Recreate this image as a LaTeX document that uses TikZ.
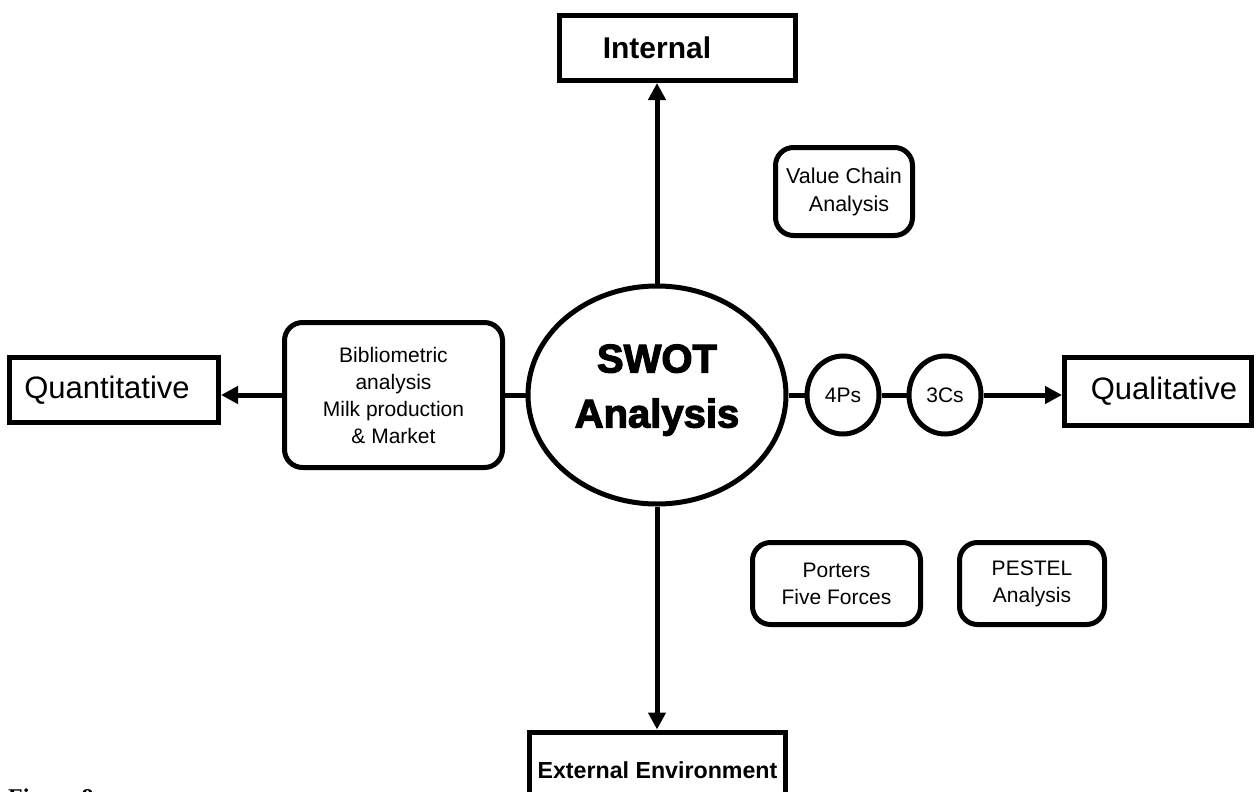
\documentclass[tikz,border=0pt]{standalone}
\usepackage{fontspec}
\setmainfont{Liberation Sans}
\newfontfamily\heavyfont[FakeBold=3]{Liberation Sans Bold}
\newfontfamily\capfont{Liberation Serif}
\usetikzlibrary{arrows.meta,shapes.geometric}
\begin{document}
\begin{tikzpicture}[x=1pt,y=-1pt,
  lw/.style={line width=5pt},
  sqbox/.style={draw,lw,rectangle,inner sep=0pt,align=center},
  rbox/.style={draw,lw,rectangle,rounded corners=18pt,inner sep=0pt,align=center,font=\fontsize{21}{27}\selectfont},
  smallcirc/.style={draw,lw,ellipse,inner sep=0pt,minimum width=72pt,minimum height=78pt,font=\fontsize{21}{24}\selectfont},
  conn/.style={lw},
  arr/.style={lw,-{Triangle[length=17pt,width=17pt]}}
  ]
\useasboundingbox (0,0) rectangle (1256,792);
\fill[white] (0,0) rectangle (1256,792);

\node[draw,lw,ellipse,inner sep=0pt,minimum width=258pt,minimum height=218pt,align=center,
  font=\heavyfont\fontsize{40}{55}\selectfont] (swot) at (657,395) {SWOT\\Analysis\rule[-18pt]{0pt}{1pt}};

\node[sqbox,minimum width=236pt,minimum height=65pt,font=\bfseries\fontsize{30}{36}\selectfont] (internal) at (677,48) {Internal\hspace*{40pt}};
\node[sqbox,minimum width=256pt,minimum height=80pt,anchor=north,font=\bfseries\fontsize{23.2}{30}\selectfont] (external) at (657.5,729.5) {\raisebox{3pt}{External Environment}};

\node[sqbox,minimum width=209pt,minimum height=65pt,font=\fontsize{31}{36}\selectfont] (quant) at (114,390) {Quantitative\hspace*{14pt}};
\node[sqbox,minimum width=187pt,minimum height=68pt,font=\fontsize{31}{36}\selectfont] (qual) at (1158,391.5) {\hspace*{12pt}Qualitative};

\node[rbox,minimum width=218pt,minimum height=145pt] (bib) at (393.5,395) {Bibliometric\\analysis\\Milk production\\\& Market};
\node[rbox,minimum width=137pt,minimum height=88pt,font=\fontsize{21.5}{28}\selectfont] (vca) at (844,191.5) {Value Chain\\\hspace*{10pt}Analysis};
\node[rbox,minimum width=168pt,minimum height=82pt] (porter) at (836.5,583.5) {Porters\\Five Forces};
\node[rbox,minimum width=145pt,minimum height=82pt] (pestel) at (1032,583.5) {PESTEL\\Analysis};

\node[smallcirc] (p4) at (843,395) {4Ps};
\node[smallcirc] (c3) at (945,395) {3Cs};

\draw[arr] (swot.north) -- (swot.north |- internal.south);
\draw[arr] (swot.south) -- (swot.south |- external.north);
\draw[conn] (swot.west) -- (bib.east);
\draw[arr] (bib.west) -- (bib.west -| quant.east);
\draw[conn] (swot.east) -- (p4.west);
\draw[conn] (p4.east) -- (c3.west);
\draw[arr] (c3.east) -- (c3.east -| qual.west);

\node[anchor=north west,inner sep=0pt,font=\capfont\bfseries\fontsize{24}{28}\selectfont] (fig) at (8,789) {Figure 8};
\end{tikzpicture}
\end{document}
